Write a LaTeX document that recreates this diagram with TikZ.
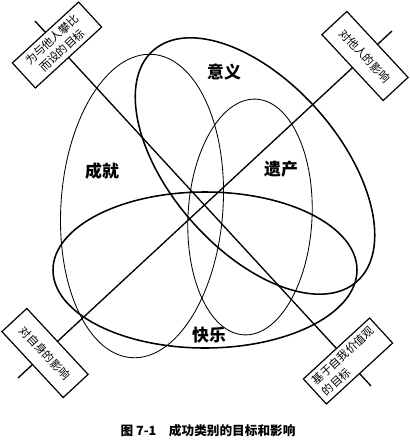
\documentclass[tikz,border=0pt]{standalone}
\usepackage{fontspec}
\setmainfont{Noto Sans CJK SC}
\usetikzlibrary{calc}

\begin{document}
\begin{tikzpicture}[x=0.25mm, y=0.25mm,
		axisline/.style={line width=0.95pt},
		thickring/.style={line width=1.1pt},
		thinring/.style={line width=0.6pt},
		goalbox/.style={draw, line width=0.85pt, fill=white, minimum width=22.5mm, minimum height=8.5mm, inner sep=1pt, font=\fontsize{8}{10.5}\selectfont},
		tag/.style={font=\fontsize{12}{14}\selectfont\bfseries}]
		\useasboundingbox (0,0) rectangle (410,-443);
		% four kinds of success
		\draw[thinring, rotate around={-4:(142,-206)}] (142,-206) ellipse [x radius=81, y radius=152];
		\draw[thinring, rotate around={-3:(250,-217)}] (250,-217) ellipse [x radius=62, y radius=118];
		\draw[thickring, rotate around={-48.6:(255,-166)}] (255,-166) ellipse [x radius=154, y radius=84];
		\draw[thickring] (205,-270) ellipse [x radius=152, y radius=78];
		\node[tag] (chengjiu) at (102,-171) {成就};
		\node[tag] (yiyi) at (224,-72) {意义};
		\node[tag] (yichan) at (281,-169) {遗产};
		\node[tag] (kuaile) at (209,-335) {快乐};
		% axes
		\coordinate (tlend) at (35,-21);
		\coordinate (brend) at (371,-386);
		\coordinate (trend) at (392,-31);
		\coordinate (blend) at (18,-378);
		\draw[axisline] (tlend) -- (brend);
		\draw[axisline] (trend) -- (blend);
		\node[goalbox, rotate=42.6, align=center] (others) at (57,-45) {为与他人攀比\\而设的目标};
		\node[goalbox, rotate=42.6, align=left] (selfvalue) at (348,-361) {基于自我价值观\\的目标};
		\node[goalbox, rotate=-47.1] (onothers) at (365,-56) {对他人的影响};
		\node[goalbox, rotate=-47.1] (onself) at (45,-353) {对自身的影响};
		\node[font=\fontsize{9}{11}\selectfont\bfseries] (caption) at (208,-431) {图 7-1\hspace{1em}成功类别的目标和影响};
	\end{tikzpicture}
\end{document}
